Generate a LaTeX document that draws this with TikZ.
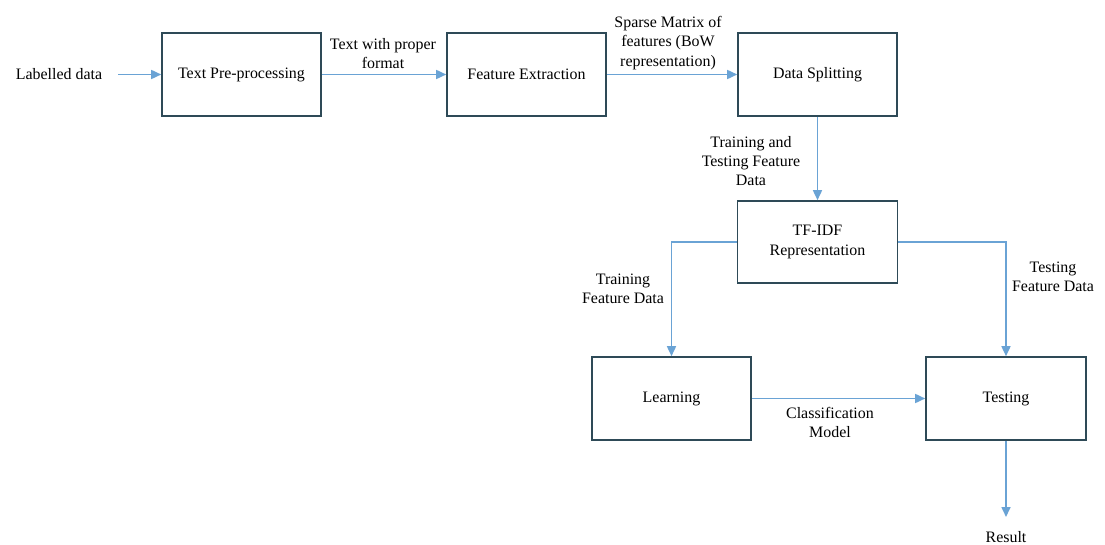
\documentclass[tikz,border=0pt]{standalone}
\usepackage{fontspec}
\setmainfont{Liberation Serif}
\usetikzlibrary{arrows.meta}
\definecolor{boxline}{HTML}{2E4A57}
\definecolor{arrowblue}{HTML}{6AA3D5}
\begin{document}
\begin{tikzpicture}[x=1bp,y=-1bp,
  font=\fontsize{16}{19.5}\selectfont,
  procbox/.style={draw=boxline,line width=1.6bp,minimum width=159bp,minimum height=83bp,inner sep=0pt,align=center},
  lbl/.style={align=center,inner sep=0pt},
  flow/.style={draw=arrowblue,line width=1.6bp,-{Triangle[length=10bp,width=9bp]}}
]
\useasboundingbox[fill=white] (0,0) rectangle (1105,545);

\node[procbox] (pre) at (241.5,74.5) {Text Pre-processing};
\node[procbox] (fe) at (526.5,74.5) {Feature Extraction};
\node[procbox] (ds) at (817.5,74.5) {Data Splitting};
\node[procbox,minimum width=160bp,minimum height=82bp] (tfidf) at (817.5,242) {TF-IDF\\Representation};
\node[procbox] (learn) at (671.5,398.5) {Learning};
\node[procbox,minimum width=160bp] (test) at (1006,398.5) {Testing};

\node[lbl] (labelled) at (59,74) {Labelled data};
\node[lbl] (result) at (1006,537) {Result};
\coordinate (labstart) at (118,74.5);
\coordinate (resend) at (1006,517);

\node[lbl] (l1) at (383,53.5) {Text with proper\\format};
\node[lbl] (l2) at (668,43) {Sparse Matrix of\\features (BoW\\representation)};
\node[lbl] (l3) at (751,161) {Training and\\Testing Feature\\Data};
\node[lbl] (l4) at (623,289) {Training\\Feature Data};
\node[lbl] (l5) at (1053,277) {Testing\\Feature Data};
\node[lbl] (l6) at (830,422.5) {Classification\\Model};

\draw[flow] (labstart) -- (pre.west);
\draw[flow] (pre) -- (fe);
\draw[flow] (fe) -- (ds);
\draw[flow] (ds) -- (tfidf);
\draw[flow] (tfidf.west) -| (learn.north);
\draw[flow] (tfidf.east) -| (test.north);
\draw[flow] (learn) -- (test);
\draw[flow] (test.south) -- (resend);
\end{tikzpicture}
\end{document}
